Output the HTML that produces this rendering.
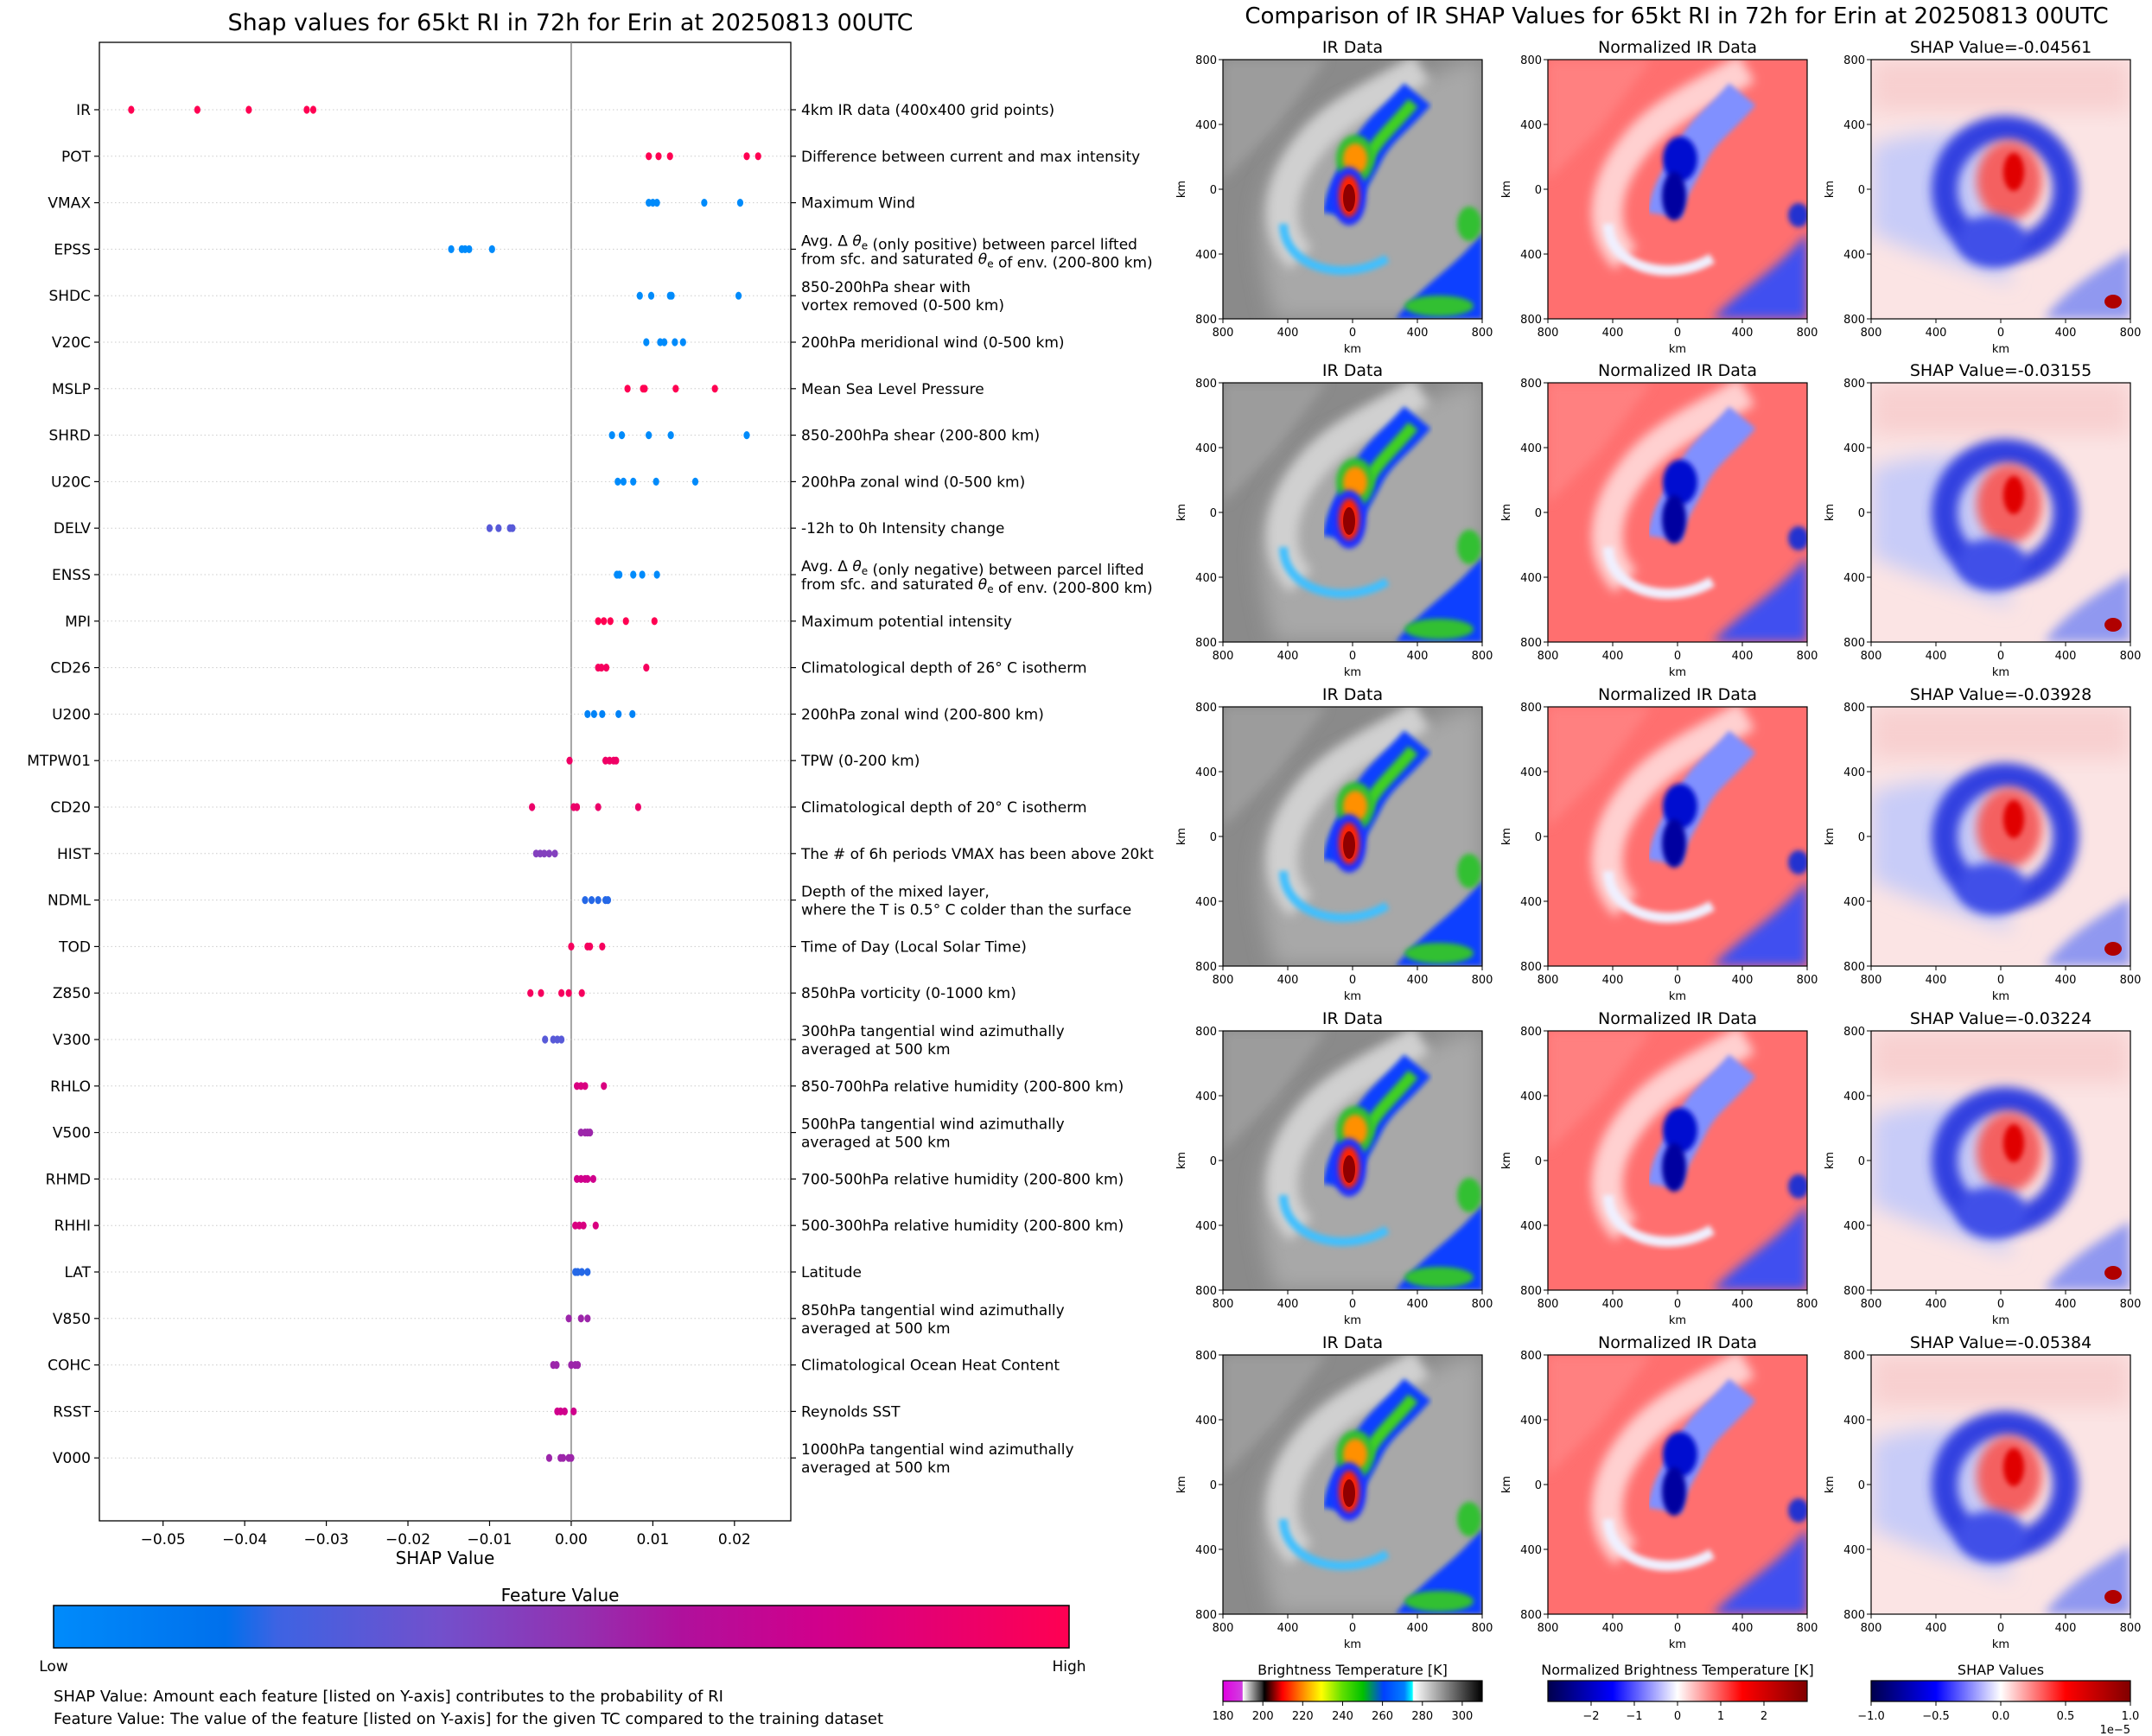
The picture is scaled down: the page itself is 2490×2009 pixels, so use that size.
<!DOCTYPE html>
<html><head><meta charset="utf-8"><style>
html,body{margin:0;padding:0;background:#fff;}
svg{display:block;font-family:"DejaVu Sans","Liberation Sans",sans-serif;}
</style></head><body>
<svg id="root" width="2490" height="2009" viewBox="0 0 2490 2009" xmlns="http://www.w3.org/2000/svg">
<defs>
  <clipPath id="pc"><rect x="0" y="0" width="300" height="300"/></clipPath>
  <filter id="b6" x="-20%" y="-20%" width="140%" height="140%"><feGaussianBlur stdDeviation="6"/></filter>
  <filter id="b3" x="-20%" y="-20%" width="140%" height="140%"><feGaussianBlur stdDeviation="3"/></filter>
  <filter id="b12" x="-30%" y="-30%" width="160%" height="160%"><feGaussianBlur stdDeviation="12"/></filter>
  <linearGradient id="shapcm" x1="0" x2="1" y1="0" y2="0">
    <stop offset="0" stop-color="#008bfb"/><stop offset="0.17" stop-color="#0070ec"/>
    <stop offset="0.22" stop-color="#3d63e3"/><stop offset="0.38" stop-color="#7250cc"/>
    <stop offset="0.52" stop-color="#9430b0"/><stop offset="0.62" stop-color="#b0109c"/>
    <stop offset="0.75" stop-color="#d0008c"/><stop offset="1" stop-color="#ff0052"/>
  </linearGradient>
  <linearGradient id="ircm" x1="0" x2="1" y1="0" y2="0">
    <stop offset="0" stop-color="#e000e0"/><stop offset="0.075" stop-color="#d040e0"/>
    <stop offset="0.077" stop-color="#ffffff"/><stop offset="0.15" stop-color="#303030"/>
    <stop offset="0.16" stop-color="#000000"/><stop offset="0.23" stop-color="#ff0000"/>
    <stop offset="0.32" stop-color="#ffa000"/><stop offset="0.38" stop-color="#ffff00"/>
    <stop offset="0.46" stop-color="#60e000"/><stop offset="0.54" stop-color="#00c000"/>
    <stop offset="0.62" stop-color="#0040ff"/><stop offset="0.7" stop-color="#0080ff"/>
    <stop offset="0.73" stop-color="#00ffff"/><stop offset="0.735" stop-color="#ffffff"/>
    <stop offset="1" stop-color="#000000"/>
  </linearGradient>
  <linearGradient id="seis" x1="0" x2="1" y1="0" y2="0">
    <stop offset="0" stop-color="#00004c"/><stop offset="0.25" stop-color="#0000ff"/>
    <stop offset="0.5" stop-color="#ffffff"/><stop offset="0.75" stop-color="#ff0000"/>
    <stop offset="1" stop-color="#800000"/>
  </linearGradient>
  <g id="irimg"><g clip-path="url(#pc)">
    <rect width="300" height="300" fill="#8a8a8a"/>
    <path d="M0 0 L120 0 L60 80 L0 140 Z" fill="#9c9c9c" filter="url(#b6)"/>
    <path d="M60 300 C40 220 30 160 80 100 C120 50 200 40 280 0 L300 0 L300 300 Z" fill="#a8a8a8" filter="url(#b12)"/>
    <path d="M90 230 C60 200 60 150 100 100 C130 60 180 40 230 10" stroke="#d0d0d0" stroke-width="36" fill="none" filter="url(#b6)"/>
    <path d="M70 190 C70 240 140 260 190 230" stroke="#40c0ff" stroke-width="10" fill="none" filter="url(#b3)"/>
    <path d="M225 40 C200 70 180 80 165 110 C150 140 140 150 135 180" stroke="#1040ff" stroke-width="40" fill="none" filter="url(#b3)"/>
    <path d="M220 50 C195 80 175 95 165 120" stroke="#40d020" stroke-width="14" fill="none" filter="url(#b3)"/>
    <ellipse cx="153" cy="115" rx="22" ry="28" fill="#30c030" filter="url(#b3)"/>
    <ellipse cx="153" cy="115" rx="14" ry="18" fill="#ff9000" filter="url(#b3)"/>
    <ellipse cx="146" cy="158" rx="20" ry="34" fill="#2030ff" filter="url(#b3)"/>
    <ellipse cx="146" cy="158" rx="12" ry="24" fill="#ff2000" filter="url(#b3)"/>
    <ellipse cx="146" cy="160" rx="7" ry="16" fill="#900000"/>
    <path d="M200 300 C230 260 270 240 300 200 L300 300 Z" fill="#1040ff" filter="url(#b3)"/>
    <ellipse cx="250" cy="285" rx="40" ry="12" fill="#30c030" filter="url(#b3)"/>
    <ellipse cx="285" cy="190" rx="14" ry="20" fill="#30c030" filter="url(#b3)"/>
  </g></g>
  <g id="nimg"><g clip-path="url(#pc)">
    <rect width="300" height="300" fill="#ff6f6f"/>
    <path d="M0 0 L120 0 L60 80 L0 140 Z" fill="#ff8080" filter="url(#b6)"/>
    <path d="M90 230 C60 200 60 150 100 100 C130 60 180 40 230 10" stroke="#ffd0d0" stroke-width="36" fill="none" filter="url(#b6)"/>
    <path d="M225 40 C200 70 180 80 165 110 C150 140 140 150 135 180" stroke="#8090ff" stroke-width="40" fill="none" filter="url(#b3)"/>
    <ellipse cx="153" cy="115" rx="20" ry="26" fill="#0010d0" filter="url(#b3)"/>
    <ellipse cx="146" cy="158" rx="14" ry="28" fill="#0000a0" filter="url(#b3)"/>
    <path d="M70 190 C70 240 140 260 190 230" stroke="#f0f0ff" stroke-width="12" fill="none" filter="url(#b3)"/>
    <path d="M190 300 C230 260 270 240 300 200 L300 300 Z" fill="#4050f0" filter="url(#b6)"/>
    <ellipse cx="290" cy="180" rx="12" ry="14" fill="#2030d0" filter="url(#b3)"/>
  </g></g>
  <g id="simg"><g clip-path="url(#pc)">
    <rect width="300" height="300" fill="#fbe4e4"/>
    <rect x="0" y="0" width="300" height="60" fill="#f8d0d0" filter="url(#b12)"/>
    <path d="M0 100 C60 80 100 80 150 100 L160 260 C120 240 60 230 0 200 Z" fill="#c8ccf8" filter="url(#b12)"/>
    <ellipse cx="155" cy="150" rx="70" ry="70" fill="none" stroke="#3040e0" stroke-width="30" filter="url(#b6)"/>
    <ellipse cx="160" cy="140" rx="38" ry="46" fill="#f46060" filter="url(#b6)"/>
    <ellipse cx="165" cy="130" rx="12" ry="22" fill="#e00000" filter="url(#b3)"/>
    <ellipse cx="140" cy="210" rx="40" ry="30" fill="#4050e8" filter="url(#b6)"/>
    <path d="M200 300 C230 260 270 240 300 220 L300 300 Z" fill="#9098f0" filter="url(#b6)"/>
    <ellipse cx="280" cy="280" rx="10" ry="8" fill="#b00000"/>
  </g></g>
</defs>
<text x="660" y="35" font-size="27" text-anchor="middle">Shap values for 65kt RI in 72h for Erin at 20250813 00UTC</text>
<g id="left"></g>
<text x="648" y="1853" font-size="20" text-anchor="middle">Feature Value</text>
<rect x="62" y="1858" width="1175" height="49" fill="url(#shapcm)" stroke="#000" stroke-width="1.5"/>
<text x="62" y="1934" font-size="17" text-anchor="middle">Low</text>
<text x="1237" y="1934" font-size="17" text-anchor="middle">High</text>
<text x="62" y="1969" font-size="18">SHAP Value: Amount each feature [listed on Y-axis] contributes to the probability of RI</text>
<text x="62" y="1995" font-size="18">Feature Value: The value of the feature [listed on Y-axis] for the given TC compared to the training dataset</text>
<text x="1940" y="27" font-size="26" text-anchor="middle">Comparison of IR SHAP Values for 65kt RI in 72h for Erin at 20250813 00UTC</text>
<g id="right"></g>
</svg>
<script>
const NS="http://www.w3.org/2000/svg";
const features=["IR","POT","VMAX","EPSS","SHDC","V20C","MSLP","SHRD","U20C","DELV","ENSS","MPI","CD26","U200","MTPW01","CD20","HIST","NDML","TOD","Z850","V300","RHLO","V500","RHMD","RHHI","LAT","V850","COHC","RSST","V000"];
const descriptions=[["4km IR data (400x400 grid points)"],["Difference between current and max intensity"],["Maximum Wind"],["Avg. Δ θe (only positive) between parcel lifted","from sfc. and saturated θe of env. (200-800 km)"],["850-200hPa shear with","vortex removed (0-500 km)"],["200hPa meridional wind (0-500 km)"],["Mean Sea Level Pressure"],["850-200hPa shear (200-800 km)"],["200hPa zonal wind (0-500 km)"],["-12h to 0h Intensity change"],["Avg. Δ θe (only negative) between parcel lifted","from sfc. and saturated θe of env. (200-800 km)"],["Maximum potential intensity"],["Climatological depth of 26° C isotherm"],["200hPa zonal wind (200-800 km)"],["TPW (0-200 km)"],["Climatological depth of 20° C isotherm"],["The # of 6h periods VMAX has been above 20kt"],["Depth of the mixed layer,","where the T is 0.5° C colder than the surface"],["Time of Day (Local Solar Time)"],["850hPa vorticity (0-1000 km)"],["300hPa tangential wind azimuthally","averaged at 500 km"],["850-700hPa relative humidity (200-800 km)"],["500hPa tangential wind azimuthally","averaged at 500 km"],["700-500hPa relative humidity (200-800 km)"],["500-300hPa relative humidity (200-800 km)"],["Latitude"],["850hPa tangential wind azimuthally","averaged at 500 km"],["Climatological Ocean Heat Content"],["Reynolds SST"],["1000hPa tangential wind azimuthally","averaged at 500 km"]];
const shapValues=[
[-0.0539,-0.0458,-0.0395,-0.0324,-0.0316],
[0.0095,0.0107,0.0121,0.0215,0.0229],
[0.0095,0.0100,0.0105,0.0163,0.0207],
[-0.0147,-0.0134,-0.0130,-0.0125,-0.0097],
[0.0084,0.0098,0.0121,0.0123,0.0205],
[0.0092,0.0109,0.0114,0.0127,0.0137],
[0.0069,0.0088,0.0090,0.0128,0.0176],
[0.0050,0.0062,0.0095,0.0122,0.0215],
[0.0057,0.0064,0.0076,0.0104,0.0152],
[-0.0100,-0.0089,-0.0075,-0.0072],
[0.0056,0.0059,0.0076,0.0087,0.0105],
[0.0033,0.0040,0.0048,0.0067,0.0102],
[0.0033,0.0037,0.0043,0.0092],
[0.0020,0.0028,0.0038,0.0058,0.0075],
[-0.0002,0.0042,0.0047,0.0052,0.0055],
[-0.0048,0.0003,0.0007,0.0033,0.0082],
[-0.0043,-0.0038,-0.0033,-0.0027,-0.0020],
[0.0017,0.0025,0.0033,0.0042,0.0045],
[0.0000,0.0020,0.0023,0.0038],
[-0.0050,-0.0037,-0.0012,-0.0003,0.0013],
[-0.0032,-0.0022,-0.0017,-0.0012],
[0.0007,0.0012,0.0017,0.0040],
[0.0012,0.0017,0.0020,0.0023],
[0.0007,0.0012,0.0017,0.0020,0.0027],
[0.0005,0.0010,0.0015,0.0030],
[0.0005,0.0008,0.0013,0.0020],
[-0.0003,0.0012,0.0020],
[-0.0022,-0.0018,0.0000,0.0005,0.0008],
[-0.0017,-0.0013,-0.0008,0.0003],
[-0.0027,-0.0013,-0.0010,-0.0003,0.0000]];
const featureValues=[1,1,0,0,0,0,1,0,0,0.3,0,1,0.95,0.05,0.92,0.9,0.45,0.2,0.95,0.95,0.3,0.8,0.55,0.75,0.8,0.2,0.55,0.55,0.75,0.55];
const xTicks=[-0.05,-0.04,-0.03,-0.02,-0.01,0,0.01,0.02];
const xTickLabels=["−0.05","−0.04","−0.03","−0.02","−0.01","0.00","0.01","0.02"];

const AX={l:115,r:915,t:49,b:1760};
const xMin=-0.0578,xMax=0.0269;
function xs(v){return AX.l+(v-xMin)/(xMax-xMin)*(AX.r-AX.l);}
const rowTop=127,rowStep=53.8;
function ys(i){return rowTop+i*rowStep;}
const cstops=[[0,[0,139,251]],[0.17,[0,112,236]],[0.22,[61,99,227]],[0.38,[114,80,204]],[0.52,[148,48,176]],[0.62,[176,16,156]],[0.75,[208,0,140]],[1,[255,0,82]]];
function cmap(t){for(let k=1;k<cstops.length;k++){if(t<=cstops[k][0]){const a=cstops[k-1],b=cstops[k];const f=(t-a[0])/(b[0]-a[0]);const c=a[1].map((v,j)=>Math.round(v+(b[1][j]-v)*f));return `rgb(${c.join(',')})`;}}return 'rgb(255,0,82)';}
function mk(tag,attrs,parent,text){const e=document.createElementNS(NS,tag);for(const k in attrs)e.setAttribute(k,attrs[k]);if(text!==undefined)e.textContent=text;parent.appendChild(e);return e;}
const L=document.getElementById('left');
const frame=mk('rect',{x:AX.l,y:AX.t,width:AX.r-AX.l,height:AX.b-AX.t,fill:'none',stroke:'#000','stroke-width':1.3},L);


const zl=mk('line',{x1:xs(0),x2:xs(0),y1:AX.t,y2:AX.b,stroke:'#888','stroke-width':1.5},L);


features.forEach((f,i)=>{
  const y=ys(i);
  const g=mk('line',{x1:AX.l,x2:AX.r,y1:y,y2:y,stroke:'#ccc','stroke-width':1,'stroke-dasharray':'1.5,3'},L);
  
  
  mk('line',{x1:AX.l-6,x2:AX.l,y1:y,y2:y,stroke:'#000','stroke-width':1.2},L);
  mk('line',{x1:AX.r,x2:AX.r+6,y1:y,y2:y,stroke:'#000','stroke-width':1.2},L);
  const t=mk('text',{x:AX.l-10,y:y+6,'font-size':17,'text-anchor':'end'},L,f);
  
  
  const d=descriptions[i];
  const dt=mk('text',{x:AX.r+12,y:0,'font-size':17},L);
  
  
  d.forEach((line,j)=>{
    const y0=d.length===1?y+6:y-4+j*21;
    const ts=mk('tspan',{x:AX.r+12,y:y0},dt);
    const parts=line.split('θe');
    parts.forEach((p,k)=>{ts.appendChild(document.createTextNode(p));if(k<parts.length-1){mk('tspan',{'font-style':'italic'},ts,'θ');mk('tspan',{'font-size':12,dy:4},ts,'e');mk('tspan',{dy:-4},ts,'');}});
  });
  const col=cmap(featureValues[i]);
  shapValues[i].forEach(v=>{
    const c=mk('ellipse',{cx:xs(v),cy:y,rx:3.6,ry:4.6,fill:col},L);
    
    
  });
});
xTicks.forEach((v,k)=>{
  const x=xs(v);
  mk('line',{x1:x,x2:x,y1:AX.b,y2:AX.b+6,stroke:'#000','stroke-width':1.2},L);
  const t=mk('text',{x:x,y:AX.b+27,'font-size':17,'text-anchor':'middle'},L,xTickLabels[k]);
  
  
});
const xl=mk('text',{x:(AX.l+AX.r)/2,y:1810,'font-size':20,'text-anchor':'middle'},L,'SHAP Value');



const R=document.getElementById('right');
const colsX=[1415,1791,2165];
const rowsY=[69,443,818,1193,1568];
const shapTitles=["SHAP Value=-0.04561","SHAP Value=-0.03155","SHAP Value=-0.03928","SHAP Value=-0.03224","SHAP Value=-0.05384"];
const colTitles=["IR Data","Normalized IR Data"];
const imgs=["#irimg","#nimg","#simg"];
const kmTicks=["800","400","0","400","800"];
rowsY.forEach((py,r)=>{
  colsX.forEach((px,c)=>{
    const u=mk('use',{href:imgs[c],x:px,y:py},R);
    
    
    mk('rect',{x:px,y:py,width:300,height:300,fill:'none',stroke:'#000','stroke-width':1.2},R);
    const title=c<2?colTitles[c]:shapTitles[r];
    const tt=mk('text',{x:px+150,y:py-8,'font-size':19,'text-anchor':'middle'},R,title);
    
    
    for(let k=0;k<5;k++){
      const yy=py+k*75, xx=px+k*75;
      mk('line',{x1:px-5,x2:px,y1:yy,y2:yy,stroke:'#000'},R);
      mk('text',{x:px-7,y:yy+5,'font-size':13,'text-anchor':'end'},R,kmTicks[k]);
      mk('line',{x1:xx,x2:xx,y1:py+300,y2:py+305,stroke:'#000'},R);
      mk('text',{x:xx,y:py+320,'font-size':13,'text-anchor':'middle'},R,kmTicks[k]);
    }
    mk('text',{x:0,y:0,'font-size':13,'text-anchor':'middle',transform:`translate(${px-44},${py+150}) rotate(-90)`},R,'km');
    mk('text',{x:px+150,y:py+339,'font-size':13,'text-anchor':'middle'},R,'km');
  });
});
const cbY=1945,cbH=24;
const cbs=[{x:1415,fill:'url(#ircm)',title:'Brightness Temperature [K]',name:'brightness-temperature-colorbar'},{x:1791,fill:'url(#seis)',title:'Normalized Brightness Temperature [K]',name:'normalized-temperature-colorbar'},{x:2165,fill:'url(#seis)',title:'SHAP Values',name:'shap-values-colorbar'}];
const cbTicks=[[["180",0],["200",46.2],["220",92.3],["240",138.5],["260",184.6],["280",230.8],["300",276.9]],[["−2",50],["−1",100],["0",150],["1",200],["2",250]],[["−1.0",0],["−0.5",75],["0.0",150],["0.5",225],["1.0",300]]];
cbs.forEach((cb,i)=>{
  const rr=mk('rect',{x:cb.x,y:cbY,width:300,height:cbH,fill:cb.fill,stroke:'#000','stroke-width':1.2},R);
  
  
  mk('text',{x:cb.x+150,y:cbY-7,'font-size':16,'text-anchor':'middle'},R,cb.title);
  cbTicks[i].forEach(([lab,off])=>{
    mk('line',{x1:cb.x+off,x2:cb.x+off,y1:cbY+cbH,y2:cbY+cbH+5,stroke:'#000'},R);
    mk('text',{x:cb.x+off,y:cbY+cbH+21,'font-size':13,'text-anchor':'middle'},R,lab);
  });
});
mk('text',{x:2465,y:2006,'font-size':13,'text-anchor':'end'},R,'1e−5');
</script>
</body></html>
